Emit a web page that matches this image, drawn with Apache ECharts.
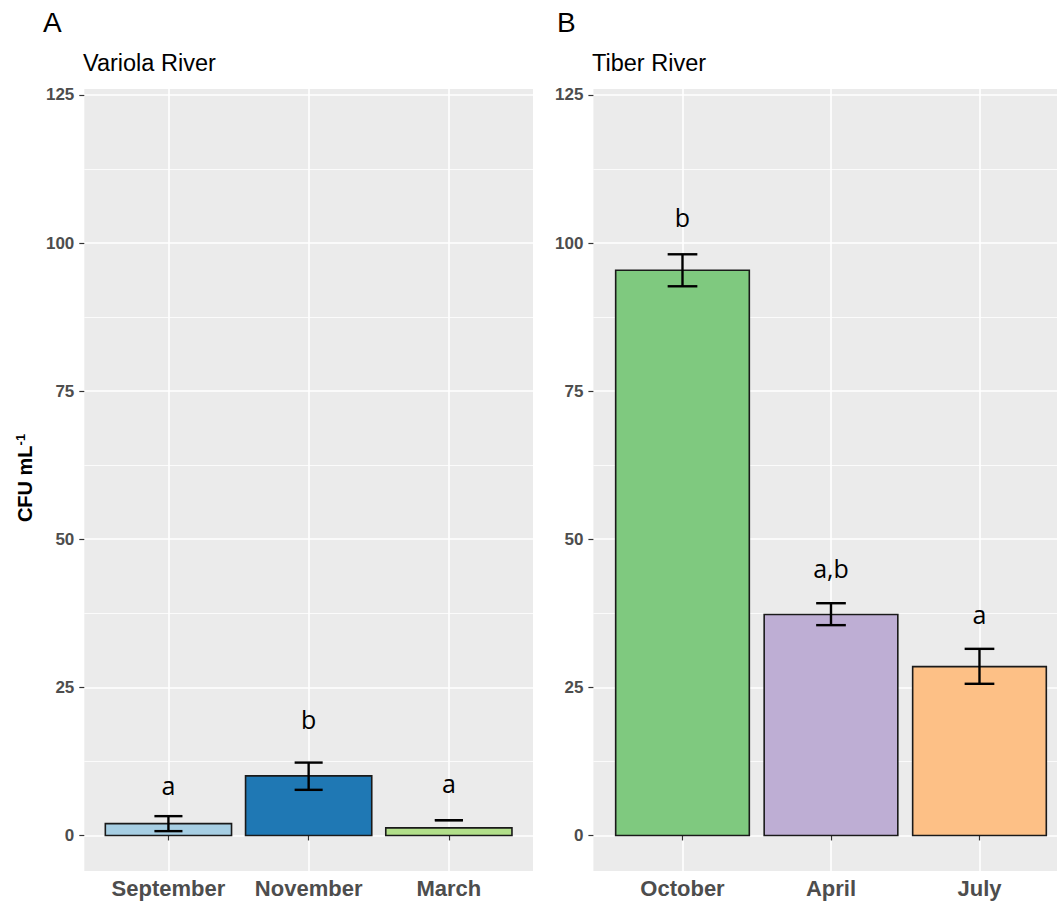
<!DOCTYPE html>
<html>
<head>
<meta charset="utf-8">
<script src="https://cdn.jsdelivr.net/npm/echarts@6/dist/echarts.min.js"></script>
<style>
html,body{margin:0;padding:0;background:#fff;overflow:hidden;}
#chart{width:1057px;height:901px;}
</style>
</head>
<body>
<div id="chart"></div>
<script>
// ---- Data ----
const categoriesA = ['September', 'November', 'March'];
const meansA = [2.0, 10.05, 1.28];
const errLowA = [0.73, 7.7, 2.58];
const errHighA = [3.26, 12.3, 2.58];
const lettersA = ['a', 'b', 'a'];
const letterYA = [8.5, 19.6, 8.8];

const categoriesB = ['October', 'April', 'July'];
const meansB = [95.4, 37.3, 28.5];
const errLowB = [92.7, 35.5, 25.6];
const errHighB = [98.1, 39.2, 31.5];
const lettersB = ['b', 'a,b', 'a'];
const letterYB = [104.4, 45.1, 37.4];

const yTicks = [0, 25, 50, 75, 100, 125];
const yMinorTicks = [12.5, 37.5, 62.5, 87.5, 112.5];
const xPositions = [1, 2, 3];

const panelTitles = ['Variola River', 'Tiber River'];
const panelTags = ['A', 'B'];

// ---- Styles ----
const colorsA = ['#A6CEE3', '#1F78B4', '#B2DF8A'];
const colorsB = ['#7FC97F', '#BEAED4', '#FDC086'];
const tickLabelColor = '#4D4D4D';

const chart = echarts.init(document.getElementById('chart'), null, {renderer: 'svg'});

function xAxisFor(gridIndex, cats, xMax) {
  return {
    type: 'value', gridIndex: gridIndex, min: 0.4, max: xMax,
    axisLine: {show: false},
    axisTick: {show: true, length: 5, customValues: xPositions, lineStyle: {color: '#333', width: 1.2}},
    axisLabel: {
      show: true, customValues: xPositions, margin: 6,
      formatter: v => cats[Math.round(v) - 1] || '',
      color: tickLabelColor, fontWeight: 'bold', fontSize: 22, fontFamily: 'Liberation Sans'
    },
    splitLine: {show: true, lineStyle: {color: '#fff', width: 1.6}}
  };
}
function yMajor(gridIndex) {
  return {
    type: 'value', gridIndex: gridIndex, min: -6, max: 126,
    axisLine: {show: false},
    axisTick: {show: true, length: 5, customValues: yTicks, lineStyle: {color: '#333', width: 1.2}},
    axisLabel: {show: true, customValues: yTicks, margin: 10, color: tickLabelColor,
      fontWeight: 'bold', fontSize: 17, fontFamily: 'Liberation Sans'},
    splitLine: {show: true, lineStyle: {color: '#fff', width: 1.6}}
  };
}
function yMinor(gridIndex) {
  return {
    type: 'value', gridIndex: gridIndex, min: -6, max: 126,
    axisLine: {show: false},
    axisTick: {show: false, customValues: yMinorTicks},
    axisLabel: {show: false, customValues: yMinorTicks},
    splitLine: {show: true, lineStyle: {color: '#fff', width: 0.8}}
  };
}

function barSeries(xi, yi, means, colors) {
  return {
    type: 'custom', xAxisIndex: xi, yAxisIndex: yi, z: 2,
    data: means.map((m, i) => [xPositions[i], m]),
    renderItem: (params, api) => {
      const x = api.value(0), y = api.value(1);
      const p0 = api.coord([x - 0.45, y]);
      const p1 = api.coord([x + 0.45, 0]);
      return {type: 'rect',
        shape: {x: p0[0], y: p0[1], width: p1[0] - p0[0], height: p1[1] - p0[1]},
        style: {fill: colors[params.dataIndex], stroke: '#1a1a1a', lineWidth: 1.6}};
    }
  };
}
function errSeries(xi, yi, lows, highs) {
  return {
    type: 'custom', xAxisIndex: xi, yAxisIndex: yi, z: 3,
    data: lows.map((l, i) => [xPositions[i], l, highs[i]]),
    renderItem: (params, api) => {
      const x = api.value(0), lo = api.value(1), hi = api.value(2);
      const a = api.coord([x, lo]), b = api.coord([x, hi]);
      const cl = api.coord([x - 0.1, lo]), cr = api.coord([x + 0.1, lo]);
      const hl = api.coord([x - 0.1, hi]), hr = api.coord([x + 0.1, hi]);
      const st = {stroke: '#000', lineWidth: 2.4};
      return {type: 'group', children: [
        {type: 'line', shape: {x1: a[0], y1: a[1], x2: b[0], y2: b[1]}, style: st},
        {type: 'line', shape: {x1: cl[0], y1: cl[1], x2: cr[0], y2: cr[1]}, style: st},
        {type: 'line', shape: {x1: hl[0], y1: hl[1], x2: hr[0], y2: hr[1]}, style: st}
      ]};
    }
  };
}
function letterSeries(xi, yi, letters, ys) {
  return {
    type: 'custom', xAxisIndex: xi, yAxisIndex: yi, z: 4,
    data: ys.map((y, i) => [xPositions[i], y]),
    renderItem: (params, api) => {
      const p = api.coord([api.value(0), api.value(1)]);
      return {type: 'text', x: p[0], y: p[1],
        style: {text: letters[params.dataIndex], fill: '#000', fontSize: 25,
          fontFamily: 'Open Sans', align: 'center', verticalAlign: 'middle'}};
    }
  };
}

const option = {
  backgroundColor: '#fff',
  animation: false,
  grid: [
    {left: 84.3, width: 448.7, top: 89, height: 782, show: true, backgroundColor: '#EBEBEB', borderWidth: 0},
    // right panel is cut off by the image edge in the reference
    {left: 593.4, right: 0, top: 89, height: 782, show: true, backgroundColor: '#EBEBEB', borderWidth: 0}
  ],
  xAxis: [xAxisFor(0, categoriesA, 3.6), xAxisFor(1, categoriesB, 3.522)],
  yAxis: [yMajor(0), yMinor(0), yMajor(1), yMinor(1)],
  series: [
    barSeries(0, 0, meansA, colorsA),
    errSeries(0, 0, errLowA, errHighA),
    letterSeries(0, 0, lettersA, letterYA),
    barSeries(1, 2, meansB, colorsB),
    errSeries(1, 2, errLowB, errHighB),
    letterSeries(1, 2, lettersB, letterYB)
  ],
  graphic: [
    {type: 'text', left: 43, top: 8, style: {text: panelTags[0], fontSize: 28, fontFamily: 'Liberation Sans', fill: '#000'}},
    {type: 'text', left: 557, top: 8, style: {text: panelTags[1], fontSize: 28, fontFamily: 'Liberation Sans', fill: '#000'}},
    {type: 'text', left: 83, top: 51, style: {text: panelTitles[0], fontSize: 23.5, fontFamily: 'Liberation Sans', fill: '#000'}},
    {type: 'text', left: 592, top: 51, style: {text: panelTitles[1], fontSize: 23.5, fontFamily: 'Liberation Sans', fill: '#000'}},
    {type: 'text', x: 24, y: 478, rotation: Math.PI / 2,
      style: {text: '{m|CFU mL}{s|-1}', align: 'center', verticalAlign: 'middle',
        rich: {
          m: {fontSize: 20, fontWeight: 'bold', fontFamily: 'Liberation Sans', fill: '#000', verticalAlign: 'bottom'},
          s: {fontSize: 13, fontWeight: 'bold', fontFamily: 'Liberation Sans', fill: '#000', verticalAlign: 'top', padding: [0, 0, 8, 0]}
        }}}
  ]
};
chart.setOption(option);
</script>
</body>
</html>
